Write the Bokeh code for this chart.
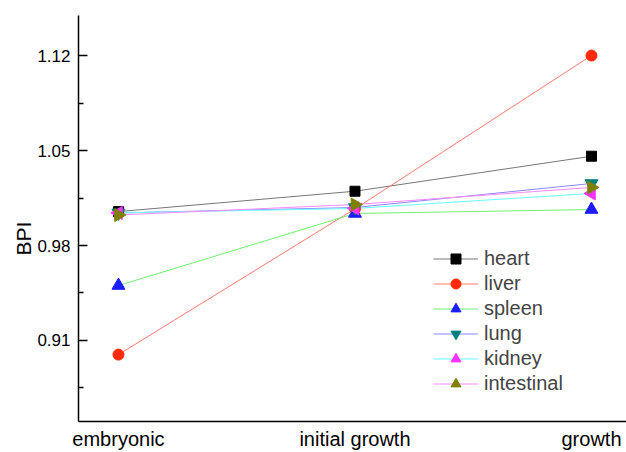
import math
from bokeh.plotting import figure
from bokeh.models import FixedTicker, Range1d, Title
from bokeh.embed import file_html
from bokeh.resources import INLINE

stages = ["embryonic", "initial growth", "growth"]
stage_x = [0, 1, 2]

heart = [1.005, 1.020, 1.0458]
liver = [0.8996, 1.007, 1.120]
spleen = [0.9505, 1.0036, 1.0065]
lung = [1.004, 1.008, 1.0257]
kidney = [1.004, 1.0073, 1.0184]
intestinal = [1.0025, 1.0102, 1.0228]

y_ticks = [0.91, 0.98, 1.05, 1.12]
y_minor = [0.875, 0.945, 1.015, 1.085]

FONT = "Liberation Sans"

p = figure(width=626, height=452, output_backend="svg", toolbar_location=None,
           x_range=Range1d(-0.169, 2.148), y_range=Range1d(0.8503, 1.1495),
           min_border_left=78, min_border_top=15, min_border_bottom=31,
           min_border_right=0)
p.outline_line_color = None
p.xgrid.visible = False
p.ygrid.visible = False
p.background_fill_color = "white"

series = [
    ("heart", heart, "#777777", "black", "square", 10, 0.0),
    ("liver", liver, "#ff7a70", "#ff2a0a", "circle", 11, 0.0),
    ("spleen", spleen, "#70f070", "#1c1cff", "triangle", 13, 0.0),
    ("lung", lung, "#8888ff", "#008080", "inverted_triangle", 13, 0.0),
    ("kidney", kidney, "#66ffff", "#ff33ff", "triangle", 13, math.pi / 2),
    ("intestinal", intestinal, "#ff88ff", "#808000", "triangle", 13, -math.pi / 2),
]

for name, vals, lc, mc, marker, size, ang in series:
    p.line(stage_x, vals, line_color=lc, line_width=1, legend_label=name)
for name, vals, lc, mc, marker, size, ang in series:
    p.scatter(stage_x, vals, marker=marker, size=size, angle=ang,
              fill_color=mc, line_color=mc, legend_label=name)

# axes
p.xaxis.ticker = FixedTicker(ticks=stage_x)
p.xaxis.major_label_overrides = {x: s for x, s in zip(stage_x, stages)}
p.xaxis.major_tick_in = 0
p.xaxis.major_tick_out = 0
p.xaxis.minor_tick_in = 0
p.xaxis.minor_tick_out = 0
p.xaxis.major_label_text_font = FONT
p.xaxis.major_label_text_font_size = "20px"
p.xaxis.major_label_text_color = "black"
p.xaxis.major_label_standoff = 6

p.yaxis.ticker = FixedTicker(ticks=y_ticks, minor_ticks=y_minor)
p.yaxis.major_label_overrides = {v: f"{v:.2f}" for v in y_ticks}
p.yaxis.major_tick_in = 9
p.yaxis.major_tick_out = 0
p.yaxis.minor_tick_in = 5
p.yaxis.minor_tick_out = 0
p.yaxis.major_label_text_font = FONT
p.yaxis.major_label_text_font_size = "17px"
p.yaxis.major_label_text_color = "black"
p.yaxis.major_label_standoff = 8

for ax in (p.xaxis, p.yaxis):
    ax.axis_line_color = "black"
    ax.axis_line_width = 1.5
    ax.major_tick_line_color = "black"
    ax.major_tick_line_width = 1.5
    ax.minor_tick_line_color = "black"
    ax.minor_tick_line_width = 1.5

ylab = Title(text="BPI", align="left", offset=166, standoff=0,
             text_font=FONT, text_font_size="21px", text_font_style="normal",
             text_color="black")
p.add_layout(ylab, "left")

leg = p.legend[0]
leg.location = (355, 25)
leg.padding = 0
leg.margin = 0
leg.spacing = 0
leg.glyph_width = 45
leg.glyph_height = 25
leg.label_height = 25
leg.label_standoff = 6
leg.label_text_font = FONT
leg.label_text_font_size = "20px"
leg.border_line_alpha = 0
leg.background_fill_alpha = 0

open("out.html", "w").write(file_html(p, INLINE))
